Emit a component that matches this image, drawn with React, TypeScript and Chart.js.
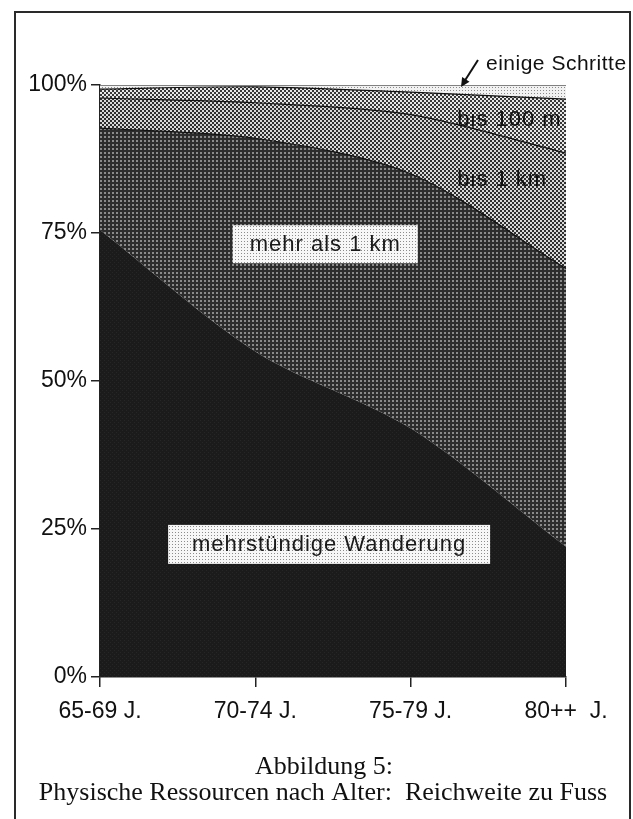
import React, { useEffect, useRef } from 'react';
import { Chart, registerables } from 'chart.js';

Chart.register(...registerables);

// ---- data ----
const categories = ['65-69 J.', '70-74 J.', '75-79 J.', '80++  J.'];
const yTickValues = [0, 25, 50, 75, 100];
const seriesNames = ['mehrstündige Wanderung', 'mehr als 1 km', 'bis 1 km', 'bis 100 m', 'einige Schritte'];
const wanderung = [75.5, 55, 42, 22];
const mehrAls1km = [17.2, 36, 43, 47];
const bis1km = [5.1, 6, 10, 19.5];
const bis100m = [1.5, 2.7, 3.8, 9.1];
const einigeSchritte = [0.7, 0.3, 1.2, 2.4];
const titleLines = ['Abbildung 5:', 'Physische Ressourcen nach Alter:  Reichweite zu Fuss'];

function makePattern(size: number, bg: string, fg: string, cells: number[][]) {
  const c = document.createElement('canvas');
  c.width = size;
  c.height = size;
  const x = c.getContext('2d')!;
  x.fillStyle = bg;
  x.fillRect(0, 0, size, size);
  x.fillStyle = fg;
  cells.forEach(([a, b, w, h]) => x.fillRect(a, b, w || 1, h || 1));
  return x.createPattern(c, 'repeat')!;
}

const SANS = '"Liberation Sans", Arial, Helvetica, sans-serif';
const SERIF = '"Liberation Serif", "Times New Roman", serif';

export default function App() {
  const ref = useRef<HTMLCanvasElement>(null);

  useEffect(() => {
    const canvas = ref.current!;
    const pDark = makePattern(4, '#1b1b1b', '#262626', [[0, 0], [2, 2]]);
    const pMehr = makePattern(4, '#2c2c2c', '#8a8a8a', [[0, 0, 2, 2]]);
    const pBis1 = makePattern(4, '#2e2e2e', '#d8d8d8', [[0, 0, 2, 2], [2, 2, 2, 2]]);
    const pBis100 = makePattern(4, '#383838', '#e8e8e8', [[0, 0, 2, 2], [2, 2, 2, 2]]);
    const pEinige = makePattern(3, '#f2f2f2', '#8a8a8a', [[0, 0]]);
    const pBox = makePattern(3, '#f7f7f7', '#8c8c8c', [[1, 1]]);

    const fills = [pDark, pMehr, pBis1, pBis100, pEinige];
    const values = [wanderung, mehrAls1km, bis1km, bis100m, einigeSchritte];

    const decor = {
      id: 'decor',
      beforeDraw(chart: any) {
        const ctx = chart.ctx;
        ctx.save();
        ctx.strokeStyle = '#2a2a2a';
        ctx.lineWidth = 2;
        ctx.beginPath();
        ctx.moveTo(15, 819);
        ctx.lineTo(15, 12);
        ctx.lineTo(630, 12);
        ctx.lineTo(630, 819);
        ctx.stroke();
        ctx.restore();
      },
      afterDatasetsDraw(chart: any) {
        const ctx = chart.ctx;
        const xs = chart.scales.x;
        const ys = chart.scales.y;
        ctx.save();
        const box = (text: string, xi: number, yv: number, w: number, h: number) => {
          const cx = xs.getPixelForValue(xi);
          const cy = ys.getPixelForValue(yv);
          ctx.fillStyle = pBox;
          ctx.fillRect(cx - w / 2, cy - h / 2, w, h);
          ctx.fillStyle = '#1a1a1a';
          ctx.font = '22px ' + SANS;
          (ctx as any).letterSpacing = '1px';
          ctx.textAlign = 'center';
          ctx.textBaseline = 'middle';
          ctx.fillText(text, cx, cy + 1);
        };
        box(seriesNames[1], 1.45, 73.1, 185, 38);
        box(seriesNames[0], 1.475, 22.4, 322, 39);

        ctx.font = '22px ' + SANS;
        (ctx as any).letterSpacing = '1px';
        ctx.textAlign = 'left';
        ctx.textBaseline = 'alphabetic';
        ctx.fillStyle = '#111';
        ctx.fillText(seriesNames[3], xs.getPixelForValue(2.3), ys.getPixelForValue(93));
        ctx.fillText(seriesNames[2], xs.getPixelForValue(2.3), ys.getPixelForValue(83));

        // label above the chart with arrow
        (ctx as any).letterSpacing = '0.5px';
        ctx.font = '21px ' + SANS;
        ctx.fillText(seriesNames[4], 486, 70);
        const ax0 = 478, ay0 = 60, ax1 = 461, ay1 = 87;
        ctx.strokeStyle = '#111';
        ctx.lineWidth = 2;
        ctx.beginPath();
        ctx.moveTo(ax0, ay0);
        ctx.lineTo(ax1 + 3, ay1 - 5);
        ctx.stroke();
        const ang = Math.atan2(ay1 - ay0, ax1 - ax0);
        ctx.fillStyle = '#111';
        ctx.beginPath();
        ctx.moveTo(ax1, ay1);
        ctx.lineTo(ax1 - 10 * Math.cos(ang - 0.45), ay1 - 10 * Math.sin(ang - 0.45));
        ctx.lineTo(ax1 - 10 * Math.cos(ang + 0.45), ay1 - 10 * Math.sin(ang + 0.45));
        ctx.closePath();
        ctx.fill();
        ctx.restore();
      },
      afterDraw(chart: any) {
        const ctx = chart.ctx;
        ctx.save();
        ctx.fillStyle = '#111';
        ctx.font = '26px ' + SERIF;
        ctx.textAlign = 'center';
        ctx.textBaseline = 'alphabetic';
        ctx.fillText(titleLines[0], 324, 774);
        ctx.fillText(titleLines[1], 323, 800);
        ctx.restore();
      },
    };

    const chart = new Chart(canvas, {
      type: 'line',
      data: {
        labels: categories,
        datasets: values.map((v, i) => ({
          label: seriesNames[i],
          data: v,
          backgroundColor: fills[i],
          borderColor: '#111',
          borderWidth: i === 0 ? 0 : 1.2,
          fill: i === 0 ? 'origin' : '-1',
          pointRadius: 0,
          tension: 0.3,
        })),
      },
      options: {
        animation: false,
        responsive: false,
        events: [],
        layout: { padding: { left: 0, right: 67, top: 85, bottom: 0 } },
        plugins: { legend: { display: false }, tooltip: { enabled: false } },
        scales: {
          x: {
            offset: false,
            afterFit: (s: any) => { s.height = 142; },
            grid: { drawOnChartArea: false, drawTicks: true, tickLength: 10, color: '#222', lineWidth: 1.5 },
            border: { display: true, color: '#222', width: 1.5 },
            ticks: { color: '#111', font: { family: SANS, size: 23 }, padding: 11, maxRotation: 0, autoSkip: false },
          },
          y: {
            stacked: true,
            min: 0,
            max: 100,
            afterFit: (s: any) => { s.width = 100; },
            afterBuildTicks: (s: any) => { s.ticks = yTickValues.map((v) => ({ value: v })); },
            grid: { drawOnChartArea: false, drawTicks: true, tickLength: 9, color: '#222', lineWidth: 1.5 },
            border: { display: true, color: '#222', width: 1.5 },
            ticks: { color: '#111', font: { family: SANS, size: 23 }, padding: 4, callback: (v: any) => v + '%' },
          },
        },
      },
      plugins: [decor],
    });
    return () => chart.destroy();
  }, []);

  return (
    <div style={{ position: 'absolute', left: 0, top: 0, width: 633, height: 819, background: '#fff' }}>
      <canvas ref={ref} width={633} height={819} style={{ width: 633, height: 819, display: 'block' }} />
    </div>
  );
}
